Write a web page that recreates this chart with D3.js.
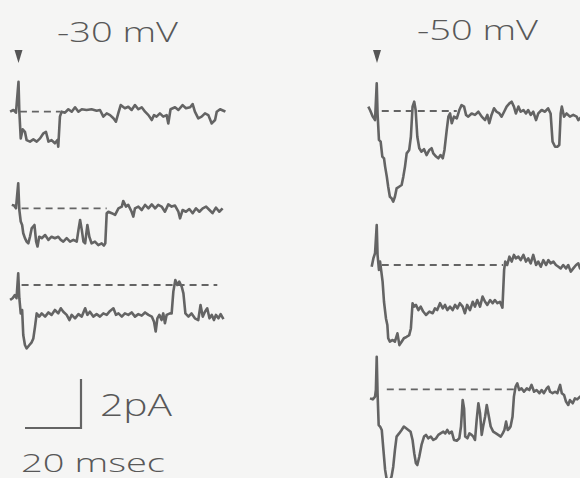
<!DOCTYPE html>
<html><head><meta charset="utf-8">
<script src="https://cdn.jsdelivr.net/npm/d3@7/dist/d3.min.js"></script>
<style>
html,body{margin:0;padding:0;background:#f5f5f4;}
svg{display:block;}
text{font-family:"Open Sans","DejaVu Sans",sans-serif;font-weight:300;fill:#585858;}
</style></head>
<body>
<script>
// ---------- DATA: single-channel current traces (time in ms from stimulus, current in pA relative to dashed level)
const voltages = ["-30 mV", "-50 mV"];

const m30a_t = [-3.0,-1.8,-0.9,0.0,0.3,0.8,1.5,2.3,2.9,4.1,5.3,6.5,7.7,8.9,9.8,10.7,11.8,13.0,13.9,14.2,14.8,15.4,16.6,17.8,19.0,20.2,21.4,22.6,24.3,26.1,27.9,29.1,30.3,31.5,32.7,33.9,34.8,35.7,36.5,38.0,39.2,40.4,41.6,42.8,44.0,45.2,46.4,47.6,48.4,49.3,50.5,51.7,52.9,53.5,54.3,55.9,57.1,58.6,59.8,61.3,62.2,63.0,64.2,65.4,66.6,67.8,69.0,70.2,70.8,72.0,73.2,73.9];
const m30a_i = [0,0.07,-0.04,1.22,0,-1.09,-0.72,-0.82,-1.16,-1.22,-1.13,-1.22,-1.09,-0.88,-0.82,-1.22,-1.16,-1.29,-1.16,-1.43,-0.20,0,-0.04,0.10,0,0.18,0,0.10,0.07,0.10,0.04,0.07,-0.20,-0.07,-0.14,-0.27,-0.41,-0.04,0.27,0.14,0.20,0.07,0.27,0.10,0.18,0,-0.14,-0.34,-0.14,-0.20,-0.07,-0.20,-0.14,-0.48,0.10,0.18,0.07,0.27,0.14,0.18,0.31,0,-0.27,-0.20,-0.07,-0.14,-0.48,-0.34,0,0.10,0.04,0];

const m30b_t = [-2.4,-1.6,-0.9,-0.1,0.3,0.8,1.3,1.7,2.3,2.9,3.5,4.1,4.7,5.7,6.3,6.8,7.4,8.3,9.5,10.7,11.8,13.0,14.2,15.1,16.0,17.2,18.4,19.6,20.8,21.5,22.0,22.6,23.2,23.8,24.6,25.3,26.1,27.3,28.5,29.7,30.5,31.0,31.5,32.1,33.3,34.5,35.7,36.9,37.4,38.4,39.2,40.4,41.0,41.6,42.8,44.0,45.2,46.4,47.6,48.8,49.9,51.1,52.3,53.5,54.7,55.9,57.1,57.7,58.6,59.8,61.0,62.2,63.4,64.6,65.8,67.0,68.2,69.3,70.5,71.7,72.9];
const m30b_i = [0.14,0.11,0,1.02,-0.07,-0.54,-0.68,-1.02,-1.22,-1.36,-1.43,-1.16,-0.82,-0.68,-1.36,-1.56,-1.16,-1.22,-1.09,-1.29,-1.16,-1.22,-1.16,-1.29,-1.36,-1.22,-1.36,-1.29,-1.36,-0.82,-0.48,-0.88,-1.36,-1.43,-0.68,-1.16,-1.43,-1.36,-1.50,-1.43,-1.52,-1.43,-0.20,-0.14,-0.20,-0.27,0,0.07,0.30,0.07,0.14,-0.14,-0.34,0,0.07,-0.07,0.14,0,0.16,0,0.14,0.07,-0.14,0.16,0.07,0.11,-0.14,-0.41,-0.07,-0.14,-0.03,-0.20,0,-0.14,0,0.07,-0.07,-0.20,0.03,-0.14,0];

const m30c_t = [-3.0,-2.1,-1.3,-0.7,-0.1,0.3,0.8,1.3,1.7,2.3,2.9,3.9,4.7,5.3,5.9,6.5,7.4,8.3,9.5,10.7,11.8,13.0,14.2,15.1,16.0,17.2,18.2,19.0,20.2,21.4,22.6,23.8,24.6,25.5,26.7,27.9,29.1,30.3,31.5,32.7,33.9,34.8,35.7,36.9,38.0,39.2,40.4,41.6,42.8,44.0,45.2,46.4,47.6,48.4,49.0,49.6,50.3,51.1,51.7,52.3,52.9,54.1,54.7,55.3,56.0,56.7,57.4,58.3,58.9,59.6,60.7,61.8,63.0,64.2,65.0,65.8,66.6,67.4,68.2,69.0,69.8,70.5,71.4,72.2,73.2];
const m30c_i = [-0.61,-0.54,-0.41,-0.54,0.48,-0.54,-1.16,-1.02,-2.04,-2.45,-2.59,-2.45,-2.34,-2.18,-1.70,-1.16,-1.29,-1.16,-1.29,-1.12,-1.22,-1.02,-1.16,-0.95,-1.09,-1.22,-1.43,-1.22,-1.36,-1.19,-1.29,-0.95,-1.22,-1.09,-1.29,-1.19,-1.29,-1.16,-1.22,-1.06,-0.95,-1.22,-1.16,-1.29,-1.16,-1.22,-1.12,-1.29,-1.19,-1.25,-1.12,-1.22,-1.29,-1.50,-1.90,-1.36,-1.22,-1.43,-1.16,-1.56,-1.22,-1.16,-1.16,-0.27,0.20,0,0.14,-0.07,-0.34,-1.16,-1.29,-1.16,-1.36,-1.43,-0.82,-1.29,-1.09,-0.95,-1.36,-1.22,-1.43,-1.22,-1.36,-1.19,-1.39];

const m50a_t = [-3.1,-2.5,-1.5,-0.7,-0.1,0.2,0.7,1.3,1.9,2.5,2.9,3.5,4.0,4.6,5.2,5.8,6.4,7.0,7.9,8.8,9.4,10.0,10.6,11.5,12.1,12.7,13.3,13.8,14.4,15.1,15.9,16.8,17.7,18.7,19.5,20.1,21.1,21.9,22.7,23.5,24.1,24.9,25.5,26.1,26.7,27.5,28.5,29.4,30.2,31.1,31.8,32.6,33.8,35.0,36.2,37.4,38.6,39.4,40.1,40.9,41.8,42.7,43.7,44.5,45.4,46.3,47.3,48.1,48.9,49.6,50.5,51.3,52.3,53.2,54.0,54.9,55.8,56.8,57.6,58.8,60.0,61.1,62.0,62.7,63.6,64.4,65.1,65.6,66.0,66.8,67.7,68.9,70.1,71.3,71.9,72.5,73.5];
const m50a_i = [0.18,0.04,-0.23,-0.37,1.13,-0.10,-1.18,-1.25,-1.86,-1.93,-2.27,-2.68,-3.09,-3.50,-3.56,-3.70,-3.50,-3.16,-3.09,-3.02,-2.68,-2.27,-1.73,-1.59,-1.05,0.18,0.38,0.04,-1.05,-1.52,-1.66,-1.56,-1.80,-1.59,-1.52,-1.73,-1.86,-1.93,-1.80,-1.93,-1.59,-0.78,-0.23,-0.10,-0.50,-0.23,-0.30,0.04,0.24,0.18,-0.16,-0.23,-0.10,-0.16,-0.03,-0.23,-0.37,-0.16,-0.50,-0.16,0.11,-0.03,-0.10,-0.23,-0.03,0.18,0.31,0.38,0.18,-0.10,0.18,-0.03,0.04,-0.10,0.04,-0.16,-0.03,-0.37,-0.10,0.04,-0.03,0.11,-0.10,-1.25,-1.46,-1.46,-1.39,-0.10,0.18,-0.23,-0.10,-0.23,-0.16,-0.23,-0.37,-0.30,-0.20];

const m50b_t = [-1.9,-1.3,-0.7,-0.1,0.2,0.7,1.1,1.4,2.0,2.5,3.2,3.7,4.0,4.6,5.6,6.4,7.3,8.0,8.8,9.6,10.6,11.5,12.1,12.7,13.2,13.9,14.8,15.6,16.5,17.5,18.7,19.9,20.7,21.5,22.5,23.5,24.3,25.1,26.1,27.0,27.9,28.7,29.6,30.6,31.4,32.2,33.2,34.2,35.0,35.8,36.8,37.7,38.6,39.4,40.4,41.3,42.1,43.0,43.9,44.8,45.4,45.8,46.5,47.3,48.1,48.9,49.6,50.5,51.3,52.3,53.2,54.0,54.9,55.8,56.8,57.6,58.5,59.4,60.4,61.2,62.0,63.0,63.9,64.8,65.6,66.5,67.5,68.3,69.2,70.1,71.1,71.9,72.5,73.5];
const m50b_i = [-0.07,0.27,0.48,1.63,0.41,-0.20,0.14,-0.14,-0.68,-1.50,-2.18,-2.45,-2.99,-3.13,-3.06,-3.13,-2.79,-3.27,-3.13,-2.99,-2.93,-2.86,-2.59,-1.56,-1.70,-1.63,-1.84,-1.70,-1.90,-2.04,-1.90,-1.97,-1.77,-1.84,-1.56,-1.77,-1.63,-1.84,-1.70,-1.84,-1.63,-1.77,-1.56,-1.70,-1.97,-1.63,-1.84,-1.50,-1.70,-1.43,-1.70,-1.29,-1.50,-1.63,-1.43,-1.56,-1.43,-1.56,-1.50,-1.74,-0.20,0.14,0,0.34,0.14,0.41,0.27,0.34,0.20,0.41,0.14,0.27,0.07,0.41,0,0.14,-0.07,0.20,0,0.20,0.07,0.14,0,-0.07,-0.14,0,-0.14,0,-0.27,-0.14,0,0.07,-0.14,0.05];

const m50c_t = [-2.5,-1.5,-0.7,-0.4,-0.1,0.2,0.6,1.1,1.7,2.3,2.9,3.5,4.4,5.2,5.8,6.4,7.0,7.9,8.8,9.6,10.4,11.2,12.0,12.7,13.3,13.9,14.4,15.1,15.9,16.8,17.5,18.3,19.2,20.1,21.1,21.9,22.7,23.7,24.4,25.1,25.8,26.7,27.5,28.5,29.4,30.0,30.6,31.1,31.5,32.3,33.0,33.8,34.4,35.0,35.6,36.2,36.8,37.4,37.9,38.6,39.2,39.8,40.6,41.5,42.5,43.3,44.2,44.9,45.5,46.1,46.7,47.3,47.7,48.4,48.9,49.5,50.1,50.8,51.6,52.5,53.5,54.4,55.2,56.1,57.0,58.0,58.8,59.6,60.6,61.2,61.8,62.7,63.6,64.4,65.4,66.0,66.8,67.5,68.3,68.9,69.9,70.7,71.5,72.5,73.5];
const m50c_i = [-0.37,-0.41,-0.30,-0.03,1.33,-0.16,-1.46,-1.52,-1.66,-2.48,-3.29,-3.70,-3.77,-3.56,-3.16,-2.48,-1.93,-1.80,-1.66,-1.52,-1.59,-1.66,-1.73,-2.07,-2.61,-3.02,-3.09,-2.75,-2.27,-1.93,-1.86,-2.00,-1.93,-2.07,-2.00,-1.86,-1.80,-1.73,-1.80,-1.66,-1.80,-1.73,-2.07,-2.10,-2.00,-1.52,-0.44,-0.78,-1.93,-2.00,-1.80,-1.86,-1.93,-2.07,-1.25,-0.57,-0.98,-1.86,-1.52,-1.12,-0.64,-1.02,-1.52,-1.73,-1.80,-1.86,-1.93,-1.80,-1.66,-1.32,-1.66,-1.59,-1.52,-1.12,-0.30,0.11,0.24,-0.03,0.04,-0.10,0.04,-0.03,0.18,-0.10,-0.03,-0.16,-0.03,-0.16,0.04,0.11,-0.10,-0.16,-0.10,-0.16,0.18,-0.16,-0.23,-0.50,-0.64,-0.44,-0.57,-0.37,-0.41,-0.30,-0.35];

// time (ms) span of the dashed closed-level line, per trace
const dashStart = [0.5, 1.1, 1.1, 1.7, 1.7, 3.5];
const dashEnd   = [15.0, 31.5, 71.0, 28.5, 45.0, 49.3];

// calibration
const scaleBarTime = 20;   // ms
const scaleBarCurrent = 2; // pA
const scaleLabels = ["2pA", "20 msec"];

// ---------- LAYOUT
const W = 580, H = 478;
const pxPerMs = 2.8, pxPerPA = 24.5;
const traces = [
  {t: m30a_t, i: m30a_i, col: 0, base: 111.7},
  {t: m30b_t, i: m30b_i, col: 0, base: 208.3},
  {t: m30c_t, i: m30c_i, col: 0, base: 285.0},
  {t: m50a_t, i: m50a_i, col: 1, base: 111.0},
  {t: m50b_t, i: m50b_i, col: 1, base: 265.0},
  {t: m50c_t, i: m50c_i, col: 1, base: 389.3}
];
const colStim = [18.5, 377];

const svg = d3.select("body").append("svg").attr("width", W).attr("height", H);
svg.append("rect").attr("width", W).attr("height", H).attr("fill", "#f5f5f4");

const xScales = colStim.map(x0 => d3.scaleLinear().domain([0, 20]).range([x0, x0 + 20 * pxPerMs]));
const ink = "#646464";

traces.forEach((tr, k) => {
  const x = xScales[tr.col];
  const y = d3.scaleLinear().domain([0, 2]).range([tr.base, tr.base - 2 * pxPerPA]);
  svg.append("line")
    .attr("x1", x(dashStart[k])).attr("x2", x(dashEnd[k]))
    .attr("y1", y(0)).attr("y2", y(0))
    .attr("stroke", ink).attr("stroke-width", 1.8).attr("stroke-dasharray", "7,5");
  const pts = tr.t.map((t, j) => [t, tr.i[j]]);
  const line = d3.line().x(d => x(d[0])).y(d => y(d[1]));
  svg.append("path").attr("d", line(pts))
    .attr("fill", "none").attr("stroke", ink).attr("stroke-width", 2.6)
    .attr("stroke-linejoin", "round");
});

// stimulus arrows
colStim.forEach(x0 => {
  svg.append("path")
    .attr("d", `M${x0 - 4},50 L${x0 + 4},50 L${x0},63 Z`)
    .attr("fill", "#555");
});

// voltage titles (stretched to the width of the original lettering)
function label(x, y, size, len, str) {
  svg.append("text").attr("x", x).attr("y", y).attr("font-size", size)
    .attr("textLength", len).attr("lengthAdjust", "spacingAndGlyphs").text(str);
}
label(57, 42, 28, 121, voltages[0]);
label(417, 40, 28, 121, voltages[1]);

// scale bar
const sbx = d3.scaleLinear().domain([0, scaleBarTime]).range([25, 25 + scaleBarTime * pxPerMs]);
const sby = d3.scaleLinear().domain([0, scaleBarCurrent]).range([428, 428 - scaleBarCurrent * pxPerPA]);
svg.append("path")
  .attr("d", `M${sbx(0)},${sby(0)} L${sbx(scaleBarTime)},${sby(0)} L${sbx(scaleBarTime)},${sby(scaleBarCurrent)}`)
  .attr("fill", "none").attr("stroke", ink).attr("stroke-width", 2.2);
label(100, 416, 32, 72, scaleLabels[0]);
label(21, 472, 25, 144, scaleLabels[1]);
</script>
</body></html>
